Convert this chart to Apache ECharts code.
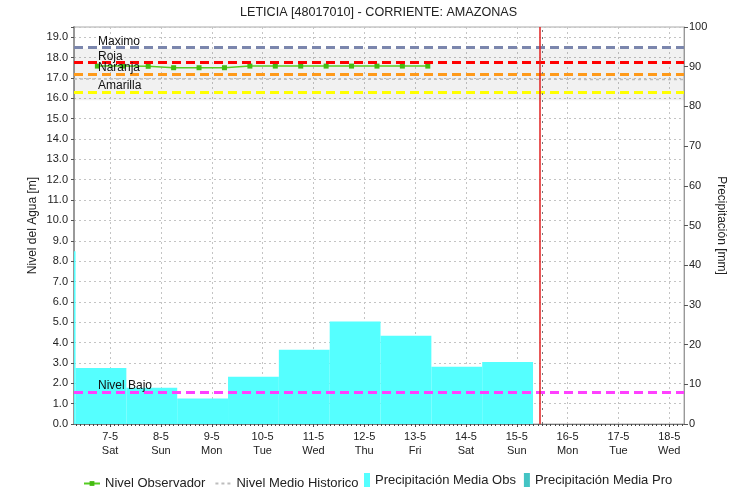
<!DOCTYPE html>
<html>
<head>
<meta charset="utf-8">
<script src="https://cdn.jsdelivr.net/npm/echarts@6/dist/echarts.min.js"></script>
<style>
  html, body { margin: 0; padding: 0; background: #ffffff; }
  #chart { width: 732px; height: 490px; }
</style>
</head>
<body>
<div id="chart"></div>
<script>
// Etiquetas del eje de tiempo (días de mayo)
const dayTicks = [7, 8, 9, 10, 11, 12, 13, 14, 15, 16, 17, 18];
const dayLabels = ['7-5', '8-5', '9-5', '10-5', '11-5', '12-5', '13-5', '14-5', '15-5', '16-5', '17-5', '18-5'];
const weekdayLabels = ['Sat', 'Sun', 'Mon', 'Tue', 'Wed', 'Thu', 'Fri', 'Sat', 'Sun', 'Mon', 'Tue', 'Wed'];

// Ventana de tiempo mostrada (día de mayo, fracción de día)
const timeStart = 6.29;
const timeEnd = 18.29;
const nowTime = 15.46;
const forecastStart = 15.5;

// Nivel observado [m], lecturas cada 12 horas
const obsTimes = [6.75, 7.25, 7.75, 8.25, 8.75, 9.25, 9.75, 10.25, 10.75, 11.25, 11.75, 12.25, 12.75, 13.25];
const obsLevels = [17.58, 17.58, 17.57, 17.50, 17.50, 17.50, 17.58, 17.58, 17.58, 17.58, 17.58, 17.58, 17.58, 17.58];

// Nivel medio histórico [m]
const histTimes = [6.29, 7, 8, 9, 10, 11, 12, 13, 14, 15, 16, 17, 18, 18.29];
const histLevels = [16.94, 16.94, 16.94, 16.94, 16.94, 16.93, 16.93, 16.93, 16.93, 16.93, 16.93, 16.92, 16.92, 16.92];

// Banda histórica [m] (mínimo, máximo)
const histBand = [15.9, 18.43];

// Precipitación media diaria [mm]: inicio y fin de cada acumulado
const rainStart = [5.32, 6.32, 7.32, 8.32, 9.32, 10.32, 11.32, 12.32, 13.32, 14.32];
const rainEnd   = [6.32, 7.32, 8.32, 9.32, 10.32, 11.32, 12.32, 13.32, 14.32, 15.32];
const rainObs   = [43.5, 14.1, 9.1, 6.4, 11.9, 18.7, 25.8, 22.2, 14.4, 15.6];
const rainPro   = [];

// Umbrales de alerta [m]
const thresholdNames = ['Maximo', 'Roja', 'Naranja', 'Amarilla', 'Nivel Bajo'];
const thresholdValues = [18.5, 17.75, 17.2, 16.3, 1.57];

const FONT = '"Liberation Sans", Arial, sans-serif';
const thresholdColor = {
  'Maximo': '#7b86ad',
  'Roja': '#ff0000',
  'Naranja': '#ff9a1a',
  'Amarilla': '#ffff00',
  'Nivel Bajo': '#ff40ff'
};

const chart = echarts.init(document.getElementById('chart'), null, { renderer: 'canvas' });

const rainData = (vals) => vals.map((v, i) => [rainStart[i], rainEnd[i], v]);

function renderRain(params, api) {
  const p0 = api.coord([api.value(0), 0]);
  const p1 = api.coord([api.value(1), api.value(2)]);
  return {
    type: 'rect',
    shape: { x: p0[0], y: p1[1], width: p1[0] - p0[0], height: p0[1] - p1[1] },
    style: api.style()
  };
}

const gridLineStyle = { color: '#c4c4c4', type: [2, 3], width: 1 };

chart.setOption({
  animation: false,
  backgroundColor: '#ffffff',
  textStyle: { fontFamily: FONT },
  title: {
    text: 'LETICIA [48017010] - CORRIENTE: AMAZONAS',
    left: 240, top: 6, padding: 0,
    textStyle: { fontFamily: FONT, fontSize: 12.6, fontWeight: 'normal', color: '#222' }
  },
  grid: {
    left: 74, right: 48, top: 27, bottom: 66,
    outerBoundsMode: 'none', containLabel: false,
    show: true, borderColor: '#aaaaaa', borderWidth: 1
  },
  legend: [
    {
      data: [
        { name: 'Nivel Observador' },
        { name: 'Nivel Medio Historico', itemStyle: { opacity: 0 } }
      ],
      left: 83, top: 477, padding: 0,
      itemWidth: 16, itemHeight: 6, itemGap: 9,
      textStyle: { fontFamily: FONT, fontSize: 13, color: '#222' }
    },
    {
      data: [
        { name: 'Precipitación Media Obs', icon: 'rect' },
        { name: 'Precipitación Media Pro', icon: 'rect' }
      ],
      left: 364, top: 473, padding: 0,
      itemWidth: 6, itemHeight: 14, itemGap: 8,
      textStyle: { fontFamily: FONT, fontSize: 13, color: '#222' }
    }
  ],
  xAxis: {
    type: 'value',
    min: timeStart, max: timeEnd,
    axisLine: { show: true, lineStyle: { color: '#777', width: 1 } },
    axisTick: { show: true, length: 3, customValues: dayTicks, lineStyle: { color: '#444' } },
    minorTick: { show: true, splitNumber: 24, length: 2, lineStyle: { color: '#444' } },
    axisLabel: {
      fontFamily: FONT, fontSize: 11, color: '#222', lineHeight: 14, margin: 6,
      customValues: dayTicks,
      formatter: (v) => {
        const i = dayTicks.indexOf(Math.round(v * 1000) / 1000);
        return i < 0 ? '' : dayLabels[i] + '\n' + weekdayLabels[i];
      }
    },
    splitLine: { show: true, customValues: dayTicks, lineStyle: gridLineStyle }
  },
  yAxis: [
    {
      type: 'value', min: 0, max: 19.5, interval: 1,
      name: 'Nivel del Agua [m]', nameLocation: 'middle', nameGap: 35, nameMoveOverlap: false,
      nameTextStyle: { fontFamily: FONT, fontSize: 12, color: '#222' },
      axisLine: { show: true, lineStyle: { color: '#999', width: 2 } },
      axisTick: { show: true, length: 3, lineStyle: { color: '#555' } },
      axisLabel: {
        fontFamily: FONT, fontSize: 11, color: '#222', margin: 6,
        formatter: (v) => (Math.abs(v - Math.round(v)) < 1e-6 ? v.toFixed(1) : '')
      },
      splitLine: { show: true, lineStyle: gridLineStyle }
    },
    {
      type: 'value', min: 0, max: 100, interval: 10, position: 'right',
      name: 'Precipitación [mm]', nameLocation: 'middle', nameGap: 31, nameRotate: -90, nameMoveOverlap: false,
      nameTextStyle: { fontFamily: FONT, fontSize: 12, color: '#222' },
      axisLine: { show: true, lineStyle: { color: '#999', width: 1 } },
      axisTick: { show: true, length: 4, lineStyle: { color: '#555' } },
      axisLabel: { fontFamily: FONT, fontSize: 11, color: '#222', margin: 5 },
      splitLine: { show: false }
    }
  ],
  series: [
    {
      name: 'Precipitación Media Obs',
      type: 'custom',
      yAxisIndex: 1,
      clip: true,
      renderItem: renderRain,
      encode: { x: [0, 1], y: 2 },
      itemStyle: { color: '#55ffff' },
      data: rainData(rainObs),
      z: 1
    },
    {
      name: 'Precipitación Media Pro',
      type: 'custom',
      yAxisIndex: 1,
      clip: true,
      renderItem: renderRain,
      encode: { x: [0, 1], y: 2 },
      itemStyle: { color: '#44c4c4' },
      data: rainData(rainPro),
      z: 1
    },
    {
      name: 'Nivel Medio Historico',
      type: 'line',
      yAxisIndex: 0,
      symbol: 'none',
      lineStyle: { color: '#bdbdbd', width: 1.5, type: [3, 3] },
      itemStyle: { color: '#bdbdbd' },
      data: histTimes.map((t, i) => [t, histLevels[i]]),
      markArea: {
        silent: true,
        itemStyle: { color: 'rgba(0,0,0,0.055)' },
        data: [[{ yAxis: histBand[0] }, { yAxis: histBand[1] }]]
      },
      markLine: {
        silent: true,
        symbol: 'none',
        animation: false,
        data: thresholdNames.map((n, i) => ({
          name: n,
          yAxis: thresholdValues[i],
          lineStyle: { color: thresholdColor[n], width: 3, type: [9, 5] },
          label: {
            show: true, formatter: n, position: 'insideStartTop', distance: [24, 0],
            fontFamily: FONT, fontSize: 12, color: '#111'
          }
        })).concat([
          {
            xAxis: nowTime,
            lineStyle: { color: '#e02020', width: 1.5, type: 'solid' },
            label: { show: false }
          },
          {
            xAxis: forecastStart,
            lineStyle: { color: '#777777', width: 1, type: [2, 5] },
            label: { show: false }
          }
        ])
      },
      z: 2
    },
    {
      name: 'Nivel Observador',
      type: 'line',
      yAxisIndex: 0,
      symbol: 'rect',
      symbolSize: 5,
      lineStyle: { color: '#55cc22', width: 1.5 },
      itemStyle: { color: '#44bb11' },
      data: obsTimes.map((t, i) => [t, obsLevels[i]]),
      z: 4
    }
  ]
});
</script>
</body>
</html>
